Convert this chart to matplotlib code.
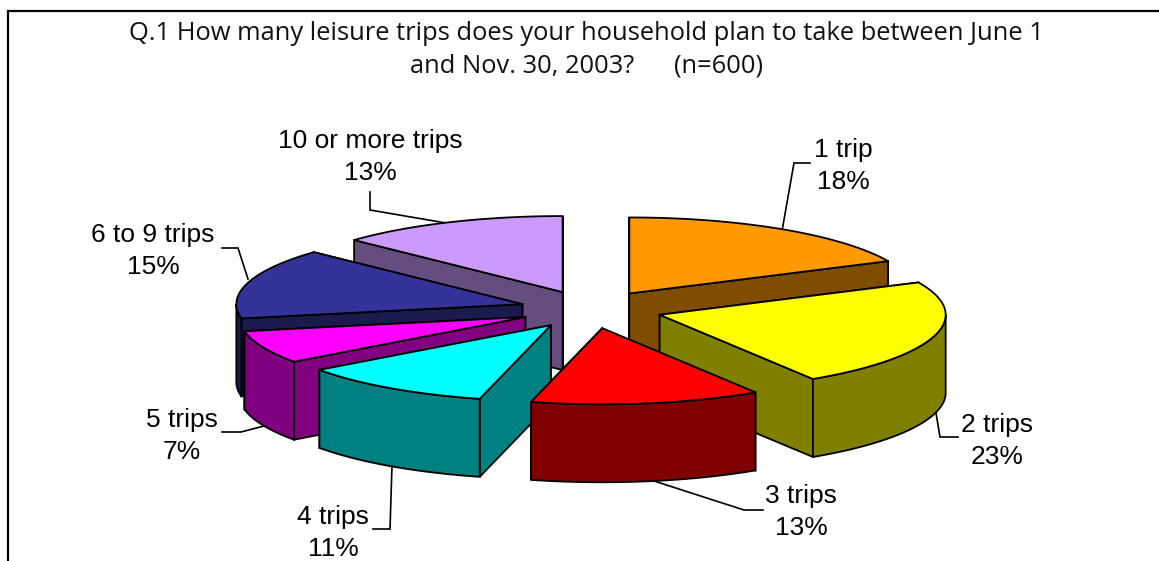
import numpy as np
import matplotlib
matplotlib.use("Agg")
import matplotlib.pyplot as plt
from matplotlib.patches import Polygon

# ---- data ----
categories = ["1 trip", "2 trips", "3 trips", "4 trips", "5 trips", "6 to 9 trips", "10 or more trips"]
shares = [18, 23, 13, 11, 7, 15, 13]
title_lines = ["Q.1 How many leisure trips does your household plan to take between June 1",
               "and Nov. 30, 2003?      (n=600)"]

# ---- style ----
top_colors = ["#FF9900", "#FFFF00", "#FF0000", "#00FFFF", "#FF00FF", "#333399", "#CC99FF"]
side_colors = ["#804C00", "#808000", "#800000", "#008080", "#800080", "#1A1A4D", "#664D80"]
draw_order = [6, 0, 5, 1, 4, 3, 2]
CX, CY, RX, RY, DEPTH, EXPLODE = 591, 309.5, 286, 76, 78, 0.25
LW = 1.3

label_pos = [(843, 166), (997, 441), (801, 512), (333, 533), (182, 436), (153, 251), (370, 157)]
leaders = [
    [(810, 163), (794, 163), (782, 231)],
    [(958, 437), (940, 437), (936, 413)],
    [(763, 510), (744, 510), (651, 480)],
    [(373, 529), (390, 529), (392, 466)],
    [(222, 432), (241, 432), (264, 426)],
    [(222, 248), (238, 248), (248, 279)],
    [(370, 192), (370, 210), (446, 223)],
]

fig = plt.figure(figsize=(11.59, 5.61), dpi=100)
ax = fig.add_axes([0, 0, 1, 1])
ax.set_xlim(0, 1159)
ax.set_ylim(561, 0)
ax.axis("off")


def rim(cx, cy, a0, a1, drop=0, n=60):
    t = np.radians(np.linspace(a0, a1, n))
    return np.column_stack([cx + RX * np.sin(t), cy - RY * np.cos(t) + drop])


def face(pts, color, z):
    ax.add_patch(Polygon(pts, closed=True, facecolor=color, edgecolor="black",
                         linewidth=LW, joinstyle="miter", zorder=z))


edges = np.cumsum([0] + shares) / sum(shares) * 360
z = 2
for i in draw_order:
    a0, a1 = edges[i], edges[i + 1]
    mid = np.radians((a0 + a1) / 2)
    cx = CX + EXPLODE * RX * np.sin(mid)
    cy = CY - EXPLODE * RY * np.cos(mid)
    apex = np.array([cx, cy])
    drop = np.array([0, DEPTH])
    p0, p1 = rim(cx, cy, a0, a0, n=1)[0], rim(cx, cy, a1, a1, n=1)[0]
    # cut faces, the one further back first
    quads = [np.array([apex, p, p + drop, apex + drop]) for p in (p0, p1)]
    quads.sort(key=lambda q: q[:, 1].mean())
    for q in quads:
        face(q, side_colors[i], z)
        z += 1
    # visible part of the outer wall
    lo, hi = max(a0, 90), min(a1, 270)
    if lo < hi:
        face(np.vstack([rim(cx, cy, lo, hi), rim(cx, cy, hi, lo, DEPTH)]), side_colors[i], z)
        z += 1
    # top surface
    face(np.vstack([apex, rim(cx, cy, a0, a1)]), top_colors[i], z)
    z += 1

# leader lines and labels
for name, share, pos, pts in zip(categories, shares, label_pos, leaders):
    xs, ys = zip(*pts)
    ax.plot(xs, ys, color="black", lw=1.2, zorder=1, solid_joinstyle="miter")
    ax.text(pos[0], pos[1], f"{name}\n{share}%", ha="center", va="center",
            family="Liberation Sans", fontsize=19, color="black", linespacing=1.38, zorder=50)

# title
for line, y in zip(title_lines, (33, 66)):
    ax.text(586.5, y, line, ha="center", va="center", family="Open Sans",
            fontsize=18.35, color="#111111", zorder=50)

# frame: top and left edges are in the crop
ax.plot([8, 8, 1159], [561, 10.5, 10.5], color="black", lw=1.6, zorder=60,
        solid_joinstyle="miter", clip_on=True)

fig.savefig("out.png", dpi=100, facecolor="white")
